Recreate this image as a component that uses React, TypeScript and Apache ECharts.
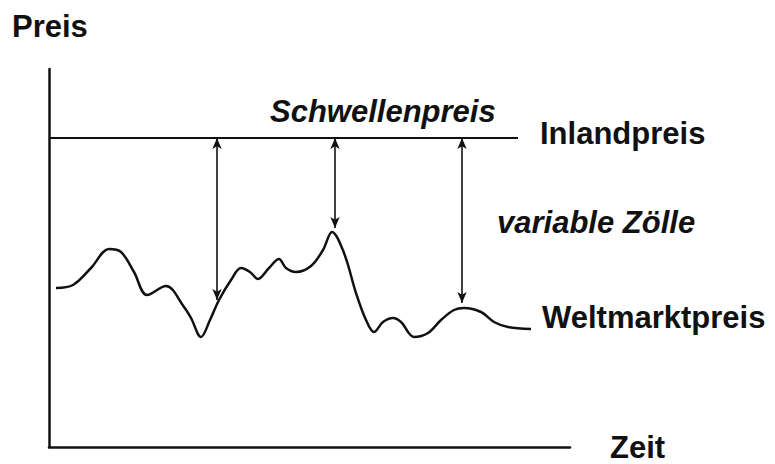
import React, { useEffect, useRef } from "react";
import * as echarts from "echarts";

// Zeit (time) and Weltmarktpreis (world market price)
const zeit = [7, 24, 42, 60, 72, 85, 98, 117, 135, 142, 152, 161, 170, 182, 192, 201, 209, 220, 230, 237, 247, 262, 274, 283, 295, 307, 317, 325, 334, 344, 352, 365, 379, 392, 405, 415, 432, 445, 459, 482];
const weltmarktpreis = [159, 162, 179, 198, 195, 175, 152, 161, 140, 129, 110, 127, 147, 167, 179, 175, 168, 179, 188, 179, 175, 181, 197, 215, 194, 154, 127, 115, 125, 129, 125, 110, 114, 127, 137, 139, 135, 125, 120, 118];

// Inlandpreis (Schwellenpreis) level and its extent in time
const inlandpreis = 309;
const inlandZeit = [0, 469];

// variable Zölle: arrows from the threshold price down to the world price
const zollZeit = [168, 286, 413];
const zollWeltpreis = [147, 219, 144];

const labelFont = "Liberation Sans, Arial, Helvetica, sans-serif";

export default function App() {
  const ref = useRef<HTMLDivElement>(null);
  useEffect(() => {
    if (!ref.current) return;
    const chart = echarts.init(ref.current, null, { renderer: "svg" });
    const txt = (text: string, x: number, y: number, italic = false) => ({
      type: "text",
      x,
      y,
      style: {
        text,
        fill: "#111",
        fontFamily: labelFont,
        fontSize: 31,
        fontWeight: "bold",
        fontStyle: italic ? "italic" : "normal",
        verticalAlign: "middle",
        align: "left",
      },
    });
    chart.setOption({
      animation: false,
      backgroundColor: "#fff",
      grid: { left: 49, right: 205, top: 69, bottom: 17 },
      xAxis: {
        type: "value",
        min: 0,
        max: 521,
        axisLine: { show: true, lineStyle: { color: "#111", width: 2.5 } },
        axisTick: { show: false },
        axisLabel: { show: false },
        splitLine: { show: false },
      },
      yAxis: {
        type: "value",
        min: 0,
        max: 378,
        axisLine: { show: true, lineStyle: { color: "#111", width: 2.5 } },
        axisTick: { show: false },
        axisLabel: { show: false },
        splitLine: { show: false },
      },
      series: [
        {
          name: "Inlandpreis",
          type: "line",
          data: inlandZeit.map((x) => [x, inlandpreis]),
          showSymbol: false,
          lineStyle: { color: "#111", width: 2 },
          silent: true,
        },
        {
          name: "Weltmarktpreis",
          type: "line",
          data: zeit.map((x, i) => [x, weltmarktpreis[i]]),
          smooth: 0.35,
          showSymbol: false,
          lineStyle: { color: "#111", width: 2.5 },
          silent: true,
          markLine: {
            silent: true,
            symbol: ["arrow", "arrow"],
            symbolSize: [7, 11],
            label: { show: false },
            lineStyle: { color: "#111", width: 1.6, type: "solid" },
            data: zollZeit.map((x, i) => [
              { coord: [x, inlandpreis] },
              { coord: [x, zollWeltpreis[i]] },
            ]),
          },
        },
      ],
      graphic: [
        txt("Preis", 12, 26),
        txt("Schwellenpreis", 270, 111, true),
        txt("Inlandpreis", 540, 133),
        txt("variable Zölle", 497, 222, true),
        txt("Weltmarktpreis", 542, 317),
        txt("Zeit", 610, 447),
      ],
    });
    return () => chart.dispose();
  }, []);
  return <div ref={ref} style={{ width: 775, height: 464, position: "fixed", left: 0, top: 0 }} />;
}
